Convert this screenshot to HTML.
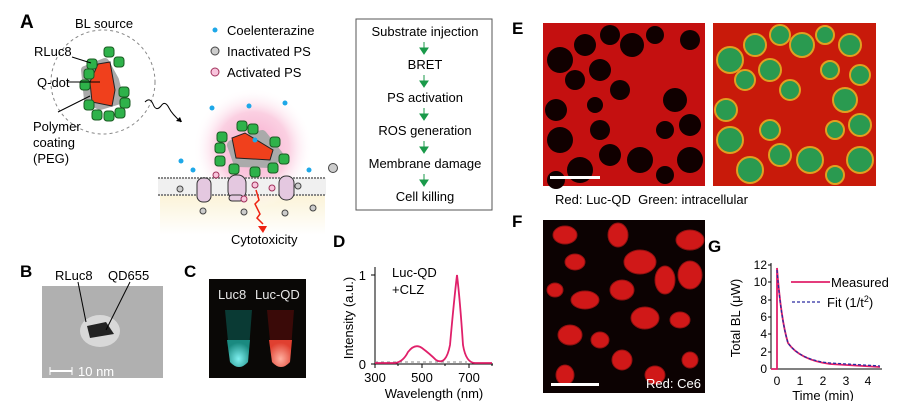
<!DOCTYPE html>
<html><head><meta charset="utf-8"><style>
body{margin:0;background:#fff;}
svg{display:block;font-family:"Liberation Sans",sans-serif;}
</style></head><body>
<svg width="900" height="401" viewBox="0 0 900 401" xmlns="http://www.w3.org/2000/svg">
<defs>
<radialGradient id="glow" cx="50%" cy="50%" r="50%"><stop offset="0" stop-color="#f7a8cc"/><stop offset="0.6" stop-color="#fbd0e2"/><stop offset="1" stop-color="#fff" stop-opacity="0"/></radialGradient>
<linearGradient id="cyt" x1="0" y1="0" x2="0" y2="1"><stop offset="0" stop-color="#fbf3d8"/><stop offset="1" stop-color="#fff"/></linearGradient>
<radialGradient id="tubeB" cx="50%" cy="70%" r="60%"><stop offset="0" stop-color="#7ff0f0"/><stop offset="1" stop-color="#1a8a80"/></radialGradient>
<radialGradient id="tubeR" cx="50%" cy="70%" r="60%"><stop offset="0" stop-color="#ffb0a0"/><stop offset="1" stop-color="#e04030"/></radialGradient>
</defs>
<!-- Panel A -->
<text x="20" y="28" font-size="19" font-weight="bold">A</text>
<text x="75" y="28" font-size="13">BL source</text>
<circle cx="103" cy="82" r="52" fill="none" stroke="#888" stroke-dasharray="3,3"/>
<path d="M85 70 L105 62 L115 80 L120 100 L100 106 L88 100 Z" fill="#aaa" stroke="#aaa" stroke-width="8" stroke-linejoin="round"/>
<path d="M98 64 L110 62 L115 90 L112 106 L92 102 L90 82 Z" fill="#f0401c" stroke="#222"/>
<g fill="#2eb24a" stroke="#1a5a22">
<rect x="104" y="47" width="10" height="10" rx="3"/><rect x="114" y="57" width="10" height="10" rx="3"/><rect x="87" y="59" width="10" height="10" rx="3"/>
<rect x="80" y="80" width="10" height="10" rx="3"/><rect x="84" y="69" width="10" height="10" rx="3"/><rect x="120" y="98" width="10" height="10" rx="3"/>
<rect x="84" y="100" width="10" height="10" rx="3"/><rect x="92" y="110" width="10" height="10" rx="3"/><rect x="104" y="111" width="10" height="10" rx="3"/><rect x="115" y="108" width="10" height="10" rx="3"/><rect x="119" y="87" width="10" height="10" rx="3"/>
</g>
<g stroke="#000" fill="none"><line x1="72" y1="57" x2="91" y2="63"/><line x1="68" y1="82" x2="100" y2="82"/><line x1="58" y1="112" x2="90" y2="96"/></g>
<text x="34" y="56" font-size="13">RLuc8</text>
<text x="37" y="87" font-size="13">Q-dot</text>
<text x="33" y="131" font-size="13">Polymer</text>
<text x="33" y="147" font-size="13">coating</text>
<text x="33" y="163" font-size="13">(PEG)</text>
<path d="M145 102 q5 -5 8 2 q3 8 8 2 q4 -6 8 2 q3 6 12 14" fill="none" stroke="#000"/>
<path d="M182 122 l-6 -1 l4 -4 z" fill="#000"/>
<circle cx="215" cy="30" r="2.5" fill="#1ea8e8"/><text x="227" y="35" font-size="13">Coelenterazine</text>
<circle cx="215" cy="51" r="4" fill="#ccc" stroke="#444"/><text x="227" y="56" font-size="13">Inactivated PS</text>
<circle cx="215" cy="72" r="4" fill="#f8c4dc" stroke="#a0305a"/><text x="227" y="77" font-size="13">Activated PS</text>
<rect x="160" y="195" width="165" height="40" fill="url(#cyt)"/>
<circle cx="253" cy="148" r="60" fill="url(#glow)"/>
<rect x="158" y="178" width="168" height="17" fill="#f0f0f0"/>
<line x1="158" y1="178" x2="326" y2="178" stroke="#888" stroke-dasharray="2,1" stroke-width="2"/>
<line x1="158" y1="195" x2="326" y2="195" stroke="#888" stroke-dasharray="2,1" stroke-width="2"/>
<path d="M232 145 L262 135 L278 155 L270 163 L238 162 Z" fill="#aaa" stroke="#aaa" stroke-width="10" stroke-linejoin="round"/>
<path d="M232 138 L245 133 L273 150 L270 160 L236 158 Z" fill="#f0401c" stroke="#222"/>
<g fill="#2eb24a" stroke="#1a5a22">
<rect x="237" y="121" width="10" height="10" rx="3"/><rect x="248" y="124" width="10" height="10" rx="3"/><rect x="217" y="132" width="10" height="10" rx="3"/><rect x="215" y="143" width="10" height="10" rx="3"/>
<rect x="270" y="137" width="10" height="10" rx="3"/><rect x="279" y="154" width="10" height="10" rx="3"/><rect x="215" y="156" width="10" height="10" rx="3"/><rect x="229" y="164" width="10" height="10" rx="3"/><rect x="250" y="167" width="10" height="10" rx="3"/><rect x="268" y="163" width="10" height="10" rx="3"/>
</g>
<g fill="#e4c8e0" stroke="#333"><rect x="197" y="178" width="14" height="24" rx="6"/><rect x="228" y="175" width="18" height="24" rx="8"/><rect x="279" y="176" width="15" height="24" rx="7"/><rect x="229" y="195" width="14" height="6" rx="3"/></g>
<g fill="#1ea8e8"><circle cx="212" cy="108" r="2.5"/><circle cx="249" cy="106" r="2.5"/><circle cx="285" cy="103" r="2.5"/><circle cx="181" cy="161" r="2.5"/><circle cx="193" cy="170" r="2.5"/><circle cx="309" cy="170" r="2.5"/><circle cx="255" cy="140" r="2.5"/></g>
<g fill="#ccc" stroke="#444"><circle cx="333" cy="168" r="4.5"/><circle cx="180" cy="189" r="3"/><circle cx="298" cy="186" r="3"/><circle cx="203" cy="211" r="3"/><circle cx="244" cy="212" r="3"/><circle cx="285" cy="213" r="3"/><circle cx="313" cy="208" r="3"/></g>
<g fill="#f8c4dc" stroke="#a0305a"><circle cx="216" cy="175" r="3"/><circle cx="255" cy="185" r="3"/><circle cx="272" cy="188" r="3"/><circle cx="244" cy="199" r="3"/></g>
<path d="M256 190 l3 10 l-4 4 l5 10 l-3 4 l6 6" fill="none" stroke="#e21" stroke-width="1.5"/>
<path d="M258 226 l9 0 l-4 7 z" fill="#e21"/>
<text x="231" y="244" font-size="13">Cytotoxicity</text>
<rect x="356" y="19" width="136" height="191" fill="none" stroke="#555"/>
<g font-size="13" text-anchor="middle">
<text x="425" y="36">Substrate injection</text><text x="425" y="69">BRET</text><text x="425" y="102">PS activation</text><text x="425" y="135">ROS generation</text><text x="425" y="168">Membrane damage</text><text x="425" y="201">Cell killing</text></g>
<g stroke="#1a9a4a" fill="#1a9a4a">
<line x1="424" y1="42" x2="424" y2="50"/><path d="M420 48 L428 48 L424 54 Z"/>
<line x1="424" y1="75" x2="424" y2="83"/><path d="M420 81 L428 81 L424 87 Z"/>
<line x1="424" y1="108" x2="424" y2="116"/><path d="M420 114 L428 114 L424 120 Z"/>
<line x1="424" y1="141" x2="424" y2="149"/><path d="M420 147 L428 147 L424 153 Z"/>
<line x1="424" y1="174" x2="424" y2="182"/><path d="M420 180 L428 180 L424 186 Z"/>
</g>
<!-- B -->
<text x="20" y="277" font-size="17" font-weight="bold">B</text>
<rect x="42" y="286" width="121" height="92" fill="#b0b0b0"/>
<ellipse cx="100" cy="331" rx="20" ry="16" fill="#d8d8d8"/>
<path d="M87 326 L106 322 L114 334 L90 338 Z" fill="#222"/>
<text x="55" y="280" font-size="13">RLuc8</text><text x="108" y="280" font-size="13">QD655</text>
<line x1="78" y1="282" x2="86" y2="322" stroke="#000"/><line x1="130" y1="282" x2="106" y2="330" stroke="#000"/>
<line x1="50" y1="371" x2="72" y2="371" stroke="#fff" stroke-width="2"/><line x1="50" y1="367" x2="50" y2="375" stroke="#fff"/><line x1="72" y1="367" x2="72" y2="375" stroke="#fff"/>
<text x="78" y="376" font-size="13" fill="#fff">10 nm</text>
<!-- C -->
<text x="184" y="277" font-size="17" font-weight="bold">C</text>
<rect x="209" y="279" width="97" height="99" fill="#0a0806"/>
<path d="M225 310 L252 310 L248 362 Q239 372 230 362 Z" fill="#0a3a34"/>
<path d="M227 340 L250 340 L248 362 Q239 372 230 362 Z" fill="url(#tubeB)"/>
<path d="M267 310 L294 310 L290 362 Q281 372 272 362 Z" fill="#3a0a08"/>
<path d="M269 340 L292 340 L290 362 Q281 372 272 362 Z" fill="url(#tubeR)"/>
<text x="218" y="299" font-size="13" fill="#e8e8e8">Luc8</text><text x="255" y="299" font-size="13" fill="#e8e8e8">Luc-QD</text>
<!-- D -->
<text x="333" y="247" font-size="17" font-weight="bold">D</text>
<line x1="375" y1="267" x2="375" y2="364" stroke="#000"/><line x1="375" y1="364" x2="493" y2="364" stroke="#000"/>
<line x1="371" y1="275" x2="375" y2="275" stroke="#000"/><line x1="371" y1="364" x2="375" y2="364" stroke="#000"/>
<g stroke="#000"><line x1="375" y1="364" x2="375" y2="368"/><line x1="422" y1="364" x2="422" y2="368"/><line x1="469" y1="364" x2="469" y2="368"/><line x1="398" y1="364" x2="398" y2="366"/><line x1="445" y1="364" x2="445" y2="366"/><line x1="492" y1="364" x2="492" y2="366"/></g>
<text x="366" y="280" font-size="13" text-anchor="end">1</text><text x="366" y="369" font-size="13" text-anchor="end">0</text>
<text x="375" y="382" font-size="13" text-anchor="middle">300</text><text x="422" y="382" font-size="13" text-anchor="middle">500</text><text x="469" y="382" font-size="13" text-anchor="middle">700</text>
<text x="434" y="398" font-size="13" text-anchor="middle">Wavelength (nm)</text>
<text transform="translate(353,318) rotate(-90)" font-size="13" text-anchor="middle">Intensity (a.u.)</text>
<text x="392" y="277" font-size="13">Luc-QD</text><text x="392" y="294" font-size="13">+CLZ</text>
<line x1="375" y1="362" x2="467" y2="362" stroke="#888" stroke-dasharray="3,3"/>
<path d="M375 363 L395 363 Q403 362 408 352 Q415 343 422 348 Q430 354 436 360 Q446 366 450 345 Q454 300 457 275 Q460 300 463 345 Q466 363 475 363 L492 363" fill="none" stroke="#e0206a" stroke-width="1.8"/>
<!-- E -->
<text x="512" y="34" font-size="17" font-weight="bold">E</text>
<rect x="543" y="23" width="162" height="163" fill="#c41010"/>
<g fill="#100000">
<circle cx="560" cy="60" r="13"/><circle cx="585" cy="45" r="11"/><circle cx="610" cy="35" r="10"/><circle cx="632" cy="45" r="12"/><circle cx="575" cy="80" r="10"/><circle cx="600" cy="70" r="11"/><circle cx="620" cy="90" r="10"/><circle cx="556" cy="110" r="11"/><circle cx="560" cy="140" r="13"/><circle cx="600" cy="130" r="10"/><circle cx="610" cy="155" r="11"/><circle cx="580" cy="170" r="13"/><circle cx="640" cy="160" r="13"/><circle cx="675" cy="100" r="12"/><circle cx="690" cy="125" r="11"/><circle cx="665" cy="130" r="9"/><circle cx="690" cy="160" r="13"/><circle cx="655" cy="35" r="9"/><circle cx="595" cy="105" r="8"/><circle cx="556" cy="180" r="9"/><circle cx="690" cy="40" r="10"/><circle cx="665" cy="175" r="9"/></g>
<rect x="550" y="176" width="50" height="3" fill="#fff"/>
<rect x="713" y="23" width="163" height="163" fill="#c81a0a"/>
<g fill="#2a9a50" stroke="#e0a020" stroke-width="2">
<circle cx="730" cy="60" r="13"/><circle cx="755" cy="45" r="11"/><circle cx="780" cy="35" r="10"/><circle cx="802" cy="45" r="12"/><circle cx="745" cy="80" r="10"/><circle cx="770" cy="70" r="11"/><circle cx="790" cy="90" r="10"/><circle cx="726" cy="110" r="11"/><circle cx="730" cy="140" r="13"/><circle cx="770" cy="130" r="10"/><circle cx="780" cy="155" r="11"/><circle cx="750" cy="170" r="13"/><circle cx="810" cy="160" r="13"/><circle cx="845" cy="100" r="12"/><circle cx="860" cy="125" r="11"/><circle cx="835" cy="130" r="9"/><circle cx="860" cy="160" r="13"/><circle cx="825" cy="35" r="9"/><circle cx="850" cy="45" r="11"/><circle cx="830" cy="70" r="9"/><circle cx="860" cy="75" r="10"/><circle cx="835" cy="175" r="9"/></g>
<text x="555" y="204" font-size="13" xml:space="preserve">Red: Luc-QD  Green: intracellular</text>
<!-- F -->
<text x="512" y="227" font-size="17" font-weight="bold">F</text>
<rect x="543" y="220" width="162" height="173" fill="#0c0202"/>
<g fill="#d01818" stroke="#901010">
<ellipse cx="565" cy="235" rx="12" ry="9"/><ellipse cx="618" cy="235" rx="10" ry="12"/><ellipse cx="690" cy="240" rx="14" ry="10"/><ellipse cx="575" cy="262" rx="10" ry="8"/><ellipse cx="640" cy="262" rx="16" ry="12"/><ellipse cx="665" cy="280" rx="10" ry="14"/><ellipse cx="690" cy="275" rx="12" ry="14"/><ellipse cx="555" cy="290" rx="8" ry="7"/><ellipse cx="585" cy="300" rx="14" ry="9"/><ellipse cx="622" cy="290" rx="12" ry="10"/><ellipse cx="645" cy="318" rx="14" ry="11"/><ellipse cx="680" cy="320" rx="10" ry="8"/><ellipse cx="570" cy="335" rx="12" ry="10"/><ellipse cx="600" cy="340" rx="9" ry="8"/><ellipse cx="622" cy="360" rx="10" ry="10"/><ellipse cx="655" cy="375" rx="10" ry="9"/><ellipse cx="565" cy="375" rx="9" ry="10"/><ellipse cx="690" cy="360" rx="8" ry="8"/></g>
<rect x="551" y="383" width="48" height="3" fill="#fff"/>
<text x="646" y="388" font-size="13" fill="#fff">Red: Ce6</text>
<!-- G -->
<text x="708" y="252" font-size="17" font-weight="bold">G</text>
<line x1="771" y1="263" x2="771" y2="369" stroke="#000"/><line x1="771" y1="369" x2="882" y2="369" stroke="#000"/>
<g font-size="12" text-anchor="end">
<text x="767" y="269">12</text><text x="767" y="286">10</text><text x="767" y="304">8</text><text x="767" y="321">6</text><text x="767" y="338">4</text><text x="767" y="356">2</text><text x="767" y="373">0</text></g>
<g stroke="#000"><line x1="768" y1="265" x2="771" y2="265"/><line x1="768" y1="282" x2="771" y2="282"/><line x1="768" y1="300" x2="771" y2="300"/><line x1="768" y1="317" x2="771" y2="317"/><line x1="768" y1="334" x2="771" y2="334"/><line x1="768" y1="352" x2="771" y2="352"/></g>
<g font-size="12" text-anchor="middle"><text x="777" y="385">0</text><text x="800" y="385">1</text><text x="823" y="385">2</text><text x="846" y="385">3</text><text x="868" y="385">4</text></g>
<text x="823" y="400" font-size="13" text-anchor="middle">Time (min)</text>
<text transform="translate(740,318) rotate(-90)" font-size="13" text-anchor="middle">Total BL (μW)</text>
<path d="M771 369 L777 369 L777 268 Q781 320 788 343 Q800 360 830 364 L880 367" fill="none" stroke="#e0206a" stroke-width="1.8"/>
<path d="M777 270 Q781 320 788 343 Q800 360 830 363 L880 366" fill="none" stroke="#2a2aa0" stroke-width="1.3" stroke-dasharray="3,2"/>
<line x1="791" y1="282" x2="830" y2="282" stroke="#e0206a" stroke-width="1.8"/><text x="831" y="287" font-size="13">Measured</text>
<line x1="792" y1="302" x2="822" y2="302" stroke="#2a2aa0" stroke-width="1.3" stroke-dasharray="3,2"/><text x="827" y="307" font-size="13">Fit (1/t<tspan font-size="9" dy="-5">2</tspan><tspan dy="5">)</tspan></text>
</svg>
</body></html>
